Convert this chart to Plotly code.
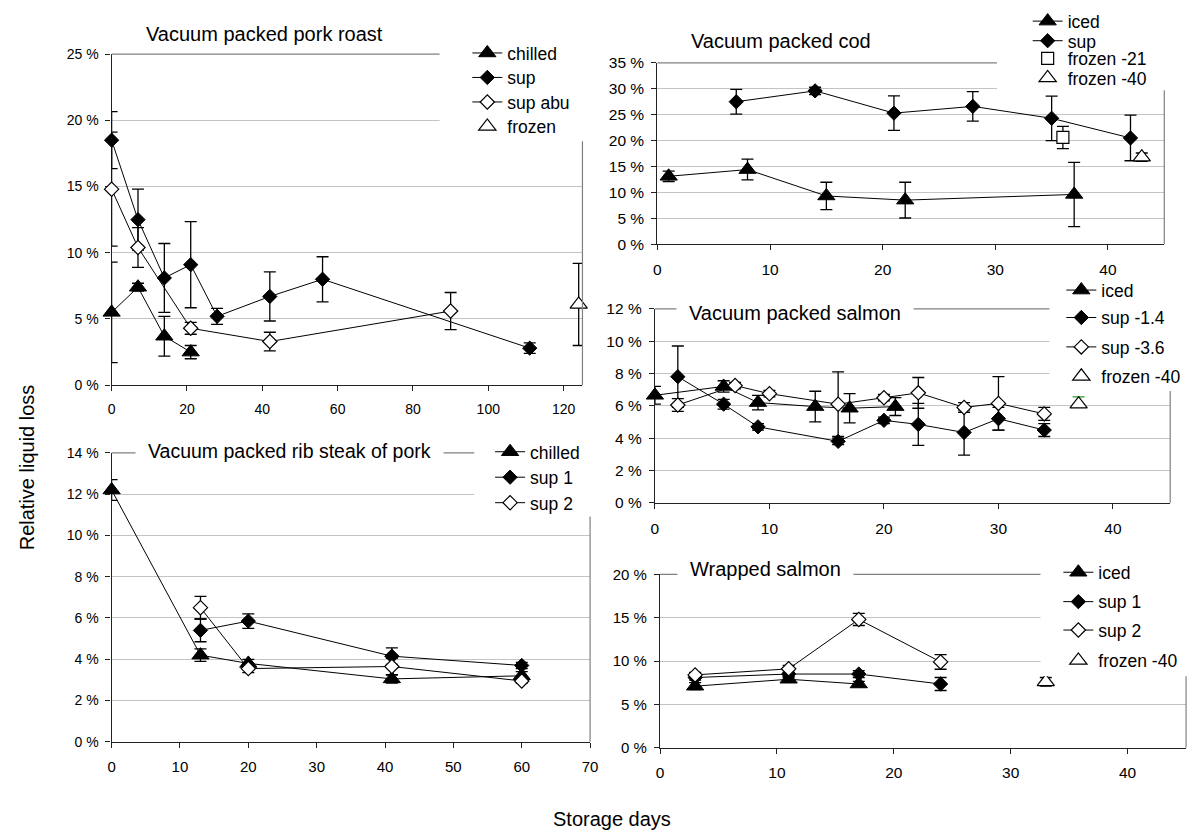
import plotly.graph_objects as go

W, H = 1200, 840
FONT = "Liberation Sans, Arial, sans-serif"

# ---- Vacuum packed pork roast ----
roast_chilled_days = [0, 7, 14, 21]
roast_chilled = [5.5, 7.4, 3.7, 2.5]
roast_chilled_err = [3.8, 0.3, 1.5, 0.5]
roast_sup_days = [0, 7, 14, 21, 28, 42, 56, 111]
roast_sup = [18.5, 12.5, 8.1, 9.1, 5.2, 6.7, 8.0, 2.8]
roast_sup_err = [2.15, 2.3, 2.6, 3.25, 0.6, 1.85, 1.7, 0.4]
roast_abu_days = [0, 7, 21, 42, 90]
roast_abu = [14.8, 10.4, 4.3, 3.3, 5.6]
roast_abu_err = [4.3, 1.5, 0.45, 0.7, 1.4]
roast_frozen_days = [124]
roast_frozen = [6.1]
roast_frozen_err = [3.1]

# ---- Vacuum packed cod ----
cod_iced_days = [1, 8, 15, 22, 37]
cod_iced = [13.1, 14.4, 9.3, 8.5, 9.6]
cod_iced_err = [1.0, 2.0, 2.65, 3.45, 6.2]
cod_sup_days = [7, 14, 21, 28, 35, 42]
cod_sup = [27.5, 29.6, 25.3, 26.6, 24.3, 20.5]
cod_sup_err = [2.4, 0.7, 3.35, 2.85, 4.3, 4.4]
cod_f21_days = [36]
cod_f21 = [20.6]
cod_f21_err = [2.15]
cod_f40_days = [43]
cod_f40 = [16.8]
cod_f40_err = [0.8]

# ---- Vacuum packed salmon ----
vs_iced_days = [0, 6, 9, 14, 17, 21]
vs_iced = [6.65, 7.2, 6.2, 5.95, 5.85, 5.95]
vs_iced_err = [0.55, 0.35, 0.45, 0.95, 0.9, 0.55]
vs_sup14_days = [2, 6, 9, 16, 20, 23, 27, 30, 34]
vs_sup14 = [7.8, 6.1, 4.7, 3.8, 5.1, 4.85, 4.35, 5.2, 4.5]
vs_sup14_err = [1.9, 0.3, 0.2, 0.2, 0.2, 1.3, 1.4, 0.7, 0.4]
vs_sup36_days = [2, 7, 10, 16, 20, 23, 27, 30, 34]
vs_sup36 = [6.05, 7.25, 6.75, 6.1, 6.5, 6.8, 5.9, 6.15, 5.5]
vs_sup36_err = [0.4, 0.2, 0.2, 2.0, 0.2, 0.95, 0.3, 1.65, 0.4]
vs_f40_days = [37]
vs_f40 = [6.1]
vs_f40_err = [0.45]

# ---- Vacuum packed rib steak of pork ----
rib_chilled_days = [0, 13, 20, 41, 60]
rib_chilled = [12.2, 4.2, 3.8, 3.05, 3.2]
rib_chilled_err = [0.5, 0.3, 0.2, 0.2, 0.2]
rib_sup1_days = [13, 20, 41, 60]
rib_sup1 = [5.4, 5.85, 4.15, 3.7]
rib_sup1_err = [0.55, 0.35, 0.4, 0.15]
rib_sup2_days = [13, 20, 41, 60]
rib_sup2 = [6.5, 3.55, 3.65, 2.95]
rib_sup2_err = [0.55, 0.2, 0.4, 0.1]

# ---- Wrapped salmon ----
ws_iced_days = [3, 11, 17]
ws_iced = [7.1, 7.9, 7.35]
ws_iced_err = [0.4, 0.3, 0.3]
ws_sup1_days = [3, 11, 17, 24]
ws_sup1 = [8.1, 8.5, 8.5, 7.35]
ws_sup1_err = [0.3, 0.4, 0.4, 0.75]
ws_sup2_days = [3, 11, 17, 24]
ws_sup2 = [8.4, 9.1, 14.8, 9.9]
ws_sup2_err = [0.3, 0.4, 0.7, 0.85]
ws_f40_days = [33]
ws_f40 = [7.6]
ws_f40_err = [0.5]

# panel frames in pixels: (left, right, top, bottom)
panels = {
    "": (108.7, 584.3, 46, 384),
    "2": (660, 1172, 55, 240),
    "3": (657.5, 1178, 306, 504),
    "4": (108.7, 592, 453, 748),
    "5": (662.7, 1194, 577, 754),
}
x_ranges = {"": [0, 125], "2": [0, 45], "3": [0, 45], "4": [0, 70], "5": [0, 45]}
x_dticks = {"": 20, "2": 10, "3": 10, "4": 10, "5": 10}
y_ranges = {"": [0, 25], "2": [0, 35], "3": [0, 12], "4": [0, 14], "5": [0, 20]}
y_dticks = {"": 5, "2": 5, "3": 2, "4": 2, "5": 5}
tick_sizes = {"": (14, 14), "2": (15.5, 15.5), "3": (15.5, 15.5), "4": (14, 15), "5": (15, 15.5)}

fig = go.Figure()
legend_layouts = {}
legend_count = [0]

MARKERS = {
    "tri": dict(symbol="triangle-up", size=15, color="black", line=dict(color="black", width=1)),
    "dia": dict(symbol="diamond", size=11, color="black", line=dict(color="black", width=1)),
    "odia": dict(symbol="diamond", size=11, color="white", line=dict(color="black", width=1.2)),
    "otri": dict(symbol="triangle-up", size=15, color="white", line=dict(color="black", width=1.2)),
    "osq": dict(symbol="square", size=12, color="white", line=dict(color="black", width=1.2)),
}


def add_series(sub, name, days, vals, err, marker, lines=True, leg_px=(0, 0),
               err_color="black", err_minus=None):
    legend_count[0] += 1
    lname = "legend" if legend_count[0] == 1 else f"legend{legend_count[0]}"
    ed = dict(type="data", array=err, visible=True, color=err_color,
              thickness=1.3, width=6)
    if err_minus is not None:
        ed["symmetric"] = False
        ed["arrayminus"] = err_minus
    fig.add_trace(go.Scatter(
        x=days, y=vals, name=name,
        mode="lines+markers" if lines else "markers",
        line=dict(color="black", width=1),
        marker=MARKERS[marker],
        error_y=ed,
        cliponaxis=False,
        xaxis="x" + sub, yaxis="y" + sub,
        legend=lname,
    ))
    mx, my = leg_px
    legend_layouts[lname] = dict(
        x=(mx - 20) / W, y=1 - my / H, xanchor="left", yanchor="middle",
        bgcolor="rgba(0,0,0,0)", borderwidth=0,
        font=dict(family=FONT, size=17.5, color="black"),
        itemclick=False, itemdoubleclick=False,
    )


# pork roast
add_series("", "chilled", roast_chilled_days, roast_chilled, roast_chilled_err, "tri", leg_px=(488, 45))
add_series("", "sup", roast_sup_days, roast_sup, roast_sup_err, "dia", leg_px=(488, 70))
add_series("", "sup abu", roast_abu_days, roast_abu, roast_abu_err, "odia", leg_px=(488, 95))
add_series("", "frozen", roast_frozen_days, roast_frozen, roast_frozen_err, "otri", lines=False, leg_px=(488, 120))
# cod
add_series("2", "iced", cod_iced_days, cod_iced, cod_iced_err, "tri", leg_px=(1054, 12.5))
add_series("2", "sup", cod_sup_days, cod_sup, cod_sup_err, "dia", leg_px=(1054, 32.5))
add_series("2", "frozen -21", cod_f21_days, cod_f21, cod_f21_err, "osq", lines=False, leg_px=(1054, 50.5))
add_series("2", "frozen -40", cod_f40_days, cod_f40, cod_f40_err, "otri", lines=False, leg_px=(1054, 70.5))
# vacuum packed salmon
add_series("3", "iced", vs_iced_days, vs_iced, vs_iced_err, "tri", leg_px=(1088, 287))
add_series("3", "sup -1.4", vs_sup14_days, vs_sup14, vs_sup14_err, "dia", leg_px=(1088, 315))
add_series("3", "sup -3.6", vs_sup36_days, vs_sup36, vs_sup36_err, "odia", leg_px=(1088, 345))
add_series("3", "frozen -40", vs_f40_days, vs_f40, vs_f40_err, "otri", lines=False, leg_px=(1088, 375),
           err_color="#22a022", err_minus=[0])
# rib steak
add_series("4", "chilled", rib_chilled_days, rib_chilled, rib_chilled_err, "tri", leg_px=(511, 452))
add_series("4", "sup 1", rib_sup1_days, rib_sup1, rib_sup1_err, "dia", leg_px=(511, 478))
add_series("4", "sup 2", rib_sup2_days, rib_sup2, rib_sup2_err, "odia", leg_px=(511, 504))
# wrapped salmon
add_series("5", "iced", ws_iced_days, ws_iced, ws_iced_err, "tri", leg_px=(1085, 575))
add_series("5", "sup 1", ws_sup1_days, ws_sup1, ws_sup1_err, "dia", leg_px=(1085, 605))
add_series("5", "sup 2", ws_sup2_days, ws_sup2, ws_sup2_err, "odia", leg_px=(1085, 634))
add_series("5", "frozen -40", ws_f40_days, ws_f40, ws_f40_err, "otri", lines=False, leg_px=(1085, 665))

layout = dict(
    width=W, height=H,
    margin=dict(l=0, r=0, t=0, b=0),
    paper_bgcolor="white", plot_bgcolor="white",
    font=dict(family=FONT, color="black"),
    showlegend=True,
)
layout.update(legend_layouts)

for sub, (l, r, t, b) in panels.items():
    ysz, xsz = tick_sizes[sub]
    layout["xaxis" + sub] = dict(
        domain=[l / W, r / W], anchor="y" + sub, range=x_ranges[sub],
        tick0=0, dtick=x_dticks[sub], showgrid=False, zeroline=False,
        showline=True, linecolor="#222222", linewidth=1.3,
        ticks="outside", ticklen=5, tickcolor="#222222", tickwidth=1.2,
        tickfont=dict(family=FONT, size=xsz, color="black"),
        ticklabelstandoff=6, layer="below traces", fixedrange=True,
    )
    layout["yaxis" + sub] = dict(
        domain=[1 - b / H, 1 - t / H], anchor="x" + sub, range=y_ranges[sub],
        tick0=0, dtick=y_dticks[sub], ticksuffix=" %",
        showgrid=True, gridcolor="#c4c4c4", gridwidth=1, zeroline=False,
        showline=True, linecolor="#222222", linewidth=1.3,
        ticks="outside", ticklen=5, tickcolor="#222222", tickwidth=1.2,
        tickfont=dict(family=FONT, size=ysz, color="black"),
        ticklabelstandoff=4, layer="below traces", fixedrange=True,
    )

shapes = []
# plot-area border on the top and right edges
for sub in panels:
    xd, yd = ("x" + sub + " domain"), ("y" + sub + " domain")
    border = dict(type="line", xref=xd, yref=yd, layer="above",
                  line=dict(color="#808080", width=1.2))
    shapes.append(dict(border, x0=0, x1=1, y0=1, y1=1))
    shapes.append(dict(border, x0=1, x1=1, y0=0, y1=1))

# white legend boxes that sit over the frame and gridlines (pixel rectangles)
legend_boxes = [
    (440, 600, 0, 135),
    (1003, 1200, 0, 83),
    (1056, 1200, 276, 390),
    (475, 600, 436, 518),
    (1047, 1200, 556, 681),
]
for x0, x1, y0, y1 in legend_boxes:
    shapes.append(dict(type="rect", xref="paper", yref="paper", layer="above",
                       x0=x0 / W, x1=x1 / W, y0=1 - y1 / H, y1=1 - y0 / H,
                       fillcolor="white", line=dict(width=0)))
layout["shapes"] = shapes

# panel titles: (text, centre x px, centre y px, font size, masks gridline)
titles = [
    ("Vacuum packed pork roast", 263.5, 26, 20, False),
    ("Vacuum packed cod", 784.5, 33, 20, False),
    ("Vacuum packed salmon", 799, 310, 20, True),
    ("Vacuum packed rib steak of pork", 288.5, 451, 19.5, True),
    ("Wrapped salmon", 769.5, 572, 20, True),
]
annotations = []
for text, cx, cy, fs, mask in titles:
    a = dict(text=text, xref="paper", yref="paper", x=cx / W, y=1 - cy / H,
             xanchor="center", yanchor="middle", showarrow=False,
             font=dict(family=FONT, size=fs, color="black"))
    if mask:
        a.update(bgcolor="white", borderpad=12)
    annotations.append(a)

annotations.append(dict(text="Relative liquid loss", xref="paper", yref="paper",
                        x=23 / W, y=1 - 468 / H, textangle=-90, showarrow=False,
                        xanchor="center", yanchor="middle",
                        font=dict(family=FONT, size=20, color="black")))
annotations.append(dict(text="Storage days", xref="paper", yref="paper",
                        x=614 / W, y=1 - 827 / H, showarrow=False,
                        xanchor="center", yanchor="middle",
                        font=dict(family=FONT, size=20, color="black")))
layout["annotations"] = annotations

fig.update_layout(**layout)
fig.write_html("out.html", config={"displayModeBar": False})
